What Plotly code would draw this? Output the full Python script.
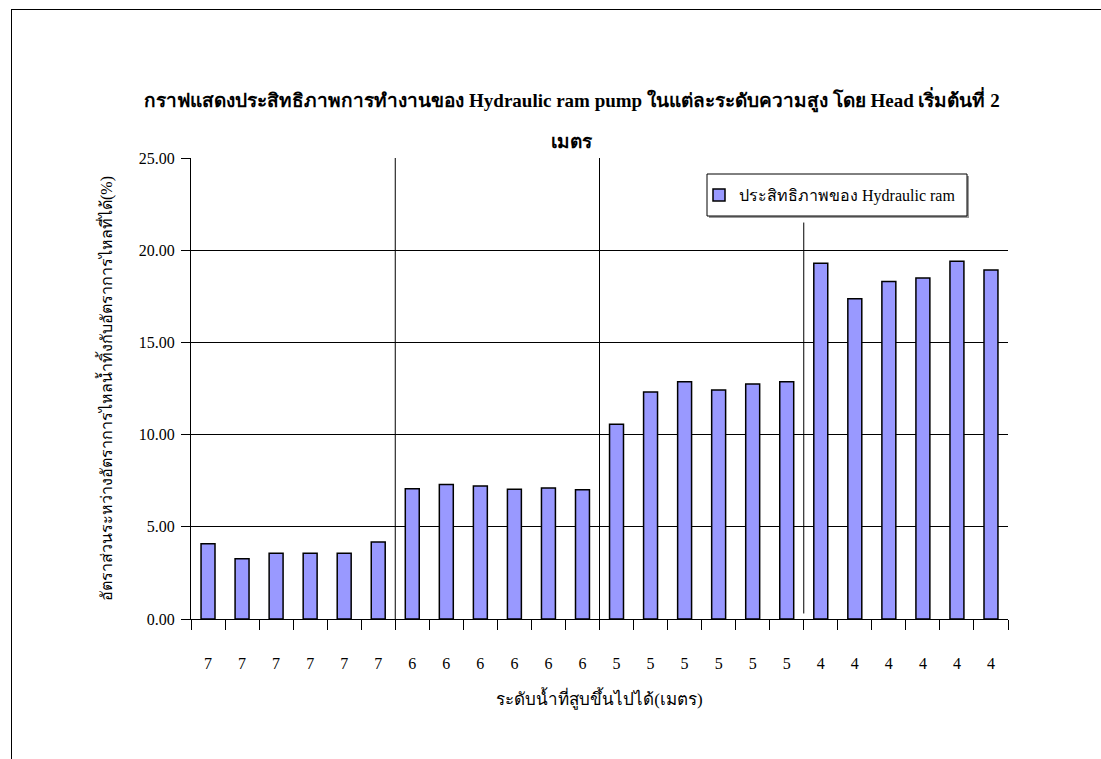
import plotly.graph_objects as go

# Pump lift height (metres) for each test run
lift_labels = ["7", "7", "7", "7", "7", "7",
               "6", "6", "6", "6", "6", "6",
               "5", "5", "5", "5", "5", "5",
               "4", "4", "4", "4", "4", "4"]

# Efficiency of the hydraulic ram (%) for each run
efficiency = [4.08, 3.27, 3.56, 3.56, 3.56, 4.18,
              7.07, 7.29, 7.21, 7.03, 7.10, 7.01,
              10.56, 12.31, 12.87, 12.42, 12.74, 12.87,
              19.29, 17.37, 18.30, 18.49, 19.40, 18.93]

series_name = "ประสิทธิภาพของ Hydraulic ram"
title_line1 = "กราฟแสดงประสิทธิภาพการทำงานของ Hydraulic ram pump ในแต่ละระดับความสูง โดย Head เริ่มต้นที่ 2"
title_line2 = "เมตร"
x_title = "ระดับน้ำที่สูบขึ้นไปได้(เมตร)"
y_title = "อัตราส่วนระหว่างอัตราการไหลน้ำทิ้งกับอัตราการไหลที่ได้(%)"

SERIF = "Times New Roman, Liberation Serif, serif"

positions = list(range(len(efficiency)))

fig = go.Figure()
fig.add_trace(go.Bar(
    x=positions,
    y=efficiency,
    width=0.41,
    name=series_name,
    marker=dict(color="#9999FF", line=dict(color="#000000", width=1.5)),
    showlegend=True,
))

W, H = 1101, 759
L, R, T, B = 191, 93, 158, 140
pw, ph = W - L - R, H - T - B


def px_x(px):
    return (px - L) / pw


def px_y(py):
    return (H - B - py) / ph


shapes = []
# group separators between lift heights
for xb in (5.5, 11.5):
    shapes.append(dict(type="line", xref="x", yref="y", x0=xb, x1=xb, y0=0, y1=25,
                       line=dict(color="#000000", width=1)))
shapes.append(dict(type="line", xref="x", yref="y", x0=17.5, x1=17.5, y0=0.3, y1=21.5,
                   line=dict(color="#000000", width=1)))
# legend box with a soft drop shadow
shapes.append(dict(type="rect", xref="paper", yref="paper", layer="above",
                   x0=px_x(709), x1=px_x(969), y0=px_y(218), y1=px_y(176),
                   fillcolor="#9a9a9a", line=dict(width=0)))
shapes.append(dict(type="rect", xref="paper", yref="paper", layer="above",
                   x0=px_x(707), x1=px_x(967), y0=px_y(216), y1=px_y(174),
                   fillcolor="#ffffff", line=dict(color="#000000", width=1)))
# page frame
shapes.append(dict(type="line", xref="paper", yref="paper",
                   x0=px_x(11), x1=px_x(1101), y0=px_y(9.5), y1=px_y(9.5),
                   line=dict(color="#000000", width=1)))
shapes.append(dict(type="line", xref="paper", yref="paper",
                   x0=px_x(11.5), x1=px_x(11.5), y0=px_y(9), y1=px_y(759),
                   line=dict(color="#000000", width=1)))

title_font = dict(family=SERIF, size=19, color="#000000")

fig.update_layout(
    width=W, height=H,
    margin=dict(l=L, r=R, t=T, b=B, pad=0),
    paper_bgcolor="white",
    plot_bgcolor="white",
    font=dict(family=SERIF, size=16, color="#000000"),
    title=dict(text="<b>" + title_line1 + "</b>", x=px_x(572), xref="paper", xanchor="center",
               y=1 - 100 / H, yref="container", yanchor="middle", font=title_font),
    annotations=[dict(text="<b>" + title_line2 + "</b>", xref="paper", yref="paper",
                      x=px_x(572), y=px_y(142), xanchor="center", yanchor="middle",
                      showarrow=False, font=title_font)],
    showlegend=True,
    legend=dict(x=px_x(699), y=px_y(195), xanchor="left", yanchor="middle",
                bgcolor="rgba(0,0,0,0)", borderwidth=0,
                font=dict(family=SERIF, size=16, color="#000000")),
    bargap=0.59,
    shapes=shapes,
)

fig.update_xaxes(
    range=[-0.5, 23.5],
    tickmode="array", tickvals=positions, ticktext=lift_labels,
    ticks="", ticklabelstandoff=30,
    minor=dict(tickmode="linear", tick0=-0.5, dtick=1, ticks="outside", ticklen=10,
               tickcolor="#000000", tickwidth=1, showgrid=False),
    showline=True, linecolor="#000000", linewidth=1,
    showgrid=False, zeroline=False,
    title=dict(text=x_title, standoff=21, font=dict(family=SERIF, size=17)),
    tickfont=dict(family=SERIF, size=16),
)

fig.update_yaxes(
    range=[0, 25], tickmode="linear", tick0=0, dtick=5, tickformat=".2f",
    ticks="outside", ticklen=9, tickcolor="#000000", ticklabelstandoff=3,
    showline=True, linecolor="#000000", linewidth=1,
    showgrid=True, gridcolor="#000000", gridwidth=1,
    zeroline=False,
    title=dict(text=y_title, standoff=22, font=dict(family=SERIF, size=16)),
    tickfont=dict(family=SERIF, size=16),
)

fig.write_html("out.html")
